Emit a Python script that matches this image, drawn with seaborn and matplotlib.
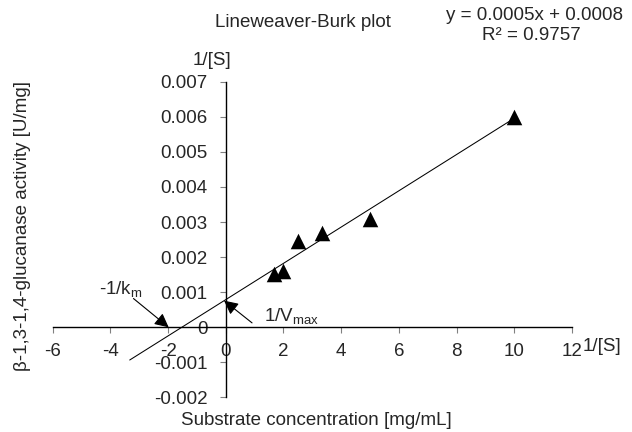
import numpy as np
import pandas as pd
import seaborn as sns
import matplotlib
matplotlib.use("Agg")
import matplotlib.pyplot as plt
from matplotlib.ticker import FuncFormatter

# 1/[S] 와 1/v 값
inv_s = [1.67, 2.0, 2.5, 3.33, 5.0, 10.0]
inv_v = [0.00153, 0.0016, 0.00247, 0.0027, 0.0031, 0.0060]

x_ticks = [-6, -4, -2, 0, 2, 4, 6, 8, 10, 12]
y_ticks = [-0.002, -0.001, 0, 0.001, 0.002, 0.003, 0.004, 0.005, 0.006, 0.007]

title = "Lineweaver-Burk plot"
eq_text = "y = 0.0005x + 0.0008"
r2_text = "R² = 0.9757"
x_label = "Substrate concentration [mg/mL]"
y_label = "β-1,3-1,4-glucanase activity [U/mg]"
backward = 5  # 추세선 뒤로 연장 (Excel forecast backward)

sns.set_style("white")
plt.rcParams["font.family"] = ["Liberation Sans", "DejaVu Sans"]
plt.rcParams["axes.unicode_minus"] = False
plt.rcParams["mathtext.fontset"] = "custom"
plt.rcParams["mathtext.rm"] = "Liberation Sans"
plt.rcParams["mathtext.default"] = "regular"

fs = 13.5

df = pd.DataFrame({"inv_s": inv_s, "inv_v": inv_v})

# 선형 추세선
slope, intercept = np.polyfit(df["inv_s"], df["inv_v"], 1)
line_x = np.array([df["inv_s"].min() - backward, df["inv_s"].max()])
line_df = pd.DataFrame({"x": line_x, "y": slope * line_x + intercept})

fig = plt.figure(figsize=(6.32, 4.32), dpi=100)
ax = fig.add_axes([0.0834, 0.0799, 0.905 - 0.0834, 0.8109 - 0.0799])

sns.lineplot(data=line_df, x="x", y="y", color="black", linewidth=0.75, ax=ax, zorder=2)
sns.scatterplot(data=df, x="inv_s", y="inv_v", marker="^", s=125, color="black",
                linewidth=0, ax=ax, zorder=3)

ax.set_xlim(-6, 12)
ax.set_ylim(-0.002, 0.007)
ax.set_xticks(x_ticks)
ax.set_yticks(y_ticks)
ax.xaxis.set_major_formatter(FuncFormatter(lambda v, p: "%d" % round(v)))
ax.yaxis.set_major_formatter(FuncFormatter(lambda v, p: "0" if abs(v) < 1e-9 else "%.3f" % v))
ax.set_xlabel("")
ax.set_ylabel("")

for side in ["top", "right"]:
    ax.spines[side].set_visible(False)
ax.spines["left"].set_position(("data", 0))
ax.spines["bottom"].set_position(("data", 0))
for side in ["left", "bottom"]:
    ax.spines[side].set_color("black")
    ax.spines[side].set_linewidth(1.0)

ax.tick_params(axis="x", direction="out", length=4.3, width=0.8, color="#808080",
               pad=7, labelsize=fs, bottom=True)
ax.tick_params(axis="y", direction="out", length=4.3, width=0.8, color="#808080",
               pad=9, labelsize=fs, left=True)

# 화살표 + 주석
arrow = dict(arrowstyle="-|>,head_length=0.6,head_width=0.3", color="black",
             lw=0.8, shrinkA=0, shrinkB=0, mutation_scale=14)
ax.annotate("", xy=(-1.98, 0.0), xytext=(-3.2, 0.00082), arrowprops=arrow)
ax.text(-3.63, 0.00096, r"-1/k$_\mathregular{m}$", fontsize=fs, ha="center", va="baseline")
ax.annotate("", xy=(-0.06, 0.00076), xytext=(0.91, 0.000126), arrowprops=arrow)
ax.text(1.34, 0.00019, r"1/V$_\mathregular{max}$", fontsize=fs, ha="left", va="baseline")

fig.text(0.479, 0.947, title, fontsize=fs, ha="center", va="center")
fig.text(0.845, 0.965, eq_text, fontsize=fs, ha="center", va="center")
fig.text(0.840, 0.917, r2_text, fontsize=fs, ha="center", va="center")
fig.text(0.335, 0.861, "1/[S]", fontsize=fs, ha="center", va="center")
fig.text(0.922, 0.197, "1/[S]", fontsize=fs, ha="left", va="center")
fig.text(0.500, 0.0255, x_label, fontsize=fs, ha="center", va="center")
fig.text(0.035, 0.478, y_label, fontsize=fs, ha="center", va="center", rotation=90)

fig.savefig("out.png", dpi=100, facecolor="white")
